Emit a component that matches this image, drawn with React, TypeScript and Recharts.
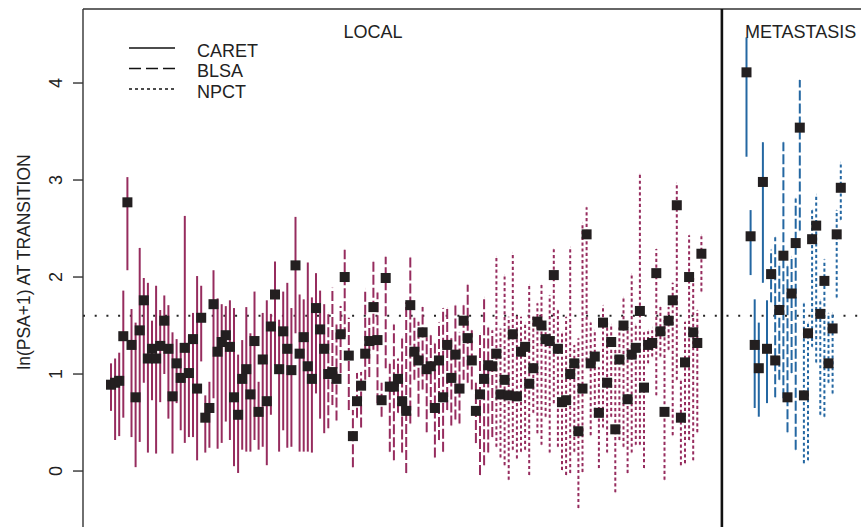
import React from "react";
import {
  ComposedChart,
  Scatter,
  ErrorBar,
  XAxis,
  YAxis,
  ReferenceLine,
  ReferenceDot,
  Legend,
} from "recharts";

// estimate / lower / upper of ln(PSA+1), one entry per subject, in plot order
const caretLocal = [
  0.89, 0.91, 0.93, 1.39, 2.77, 1.3, 0.76, 1.45, 1.76, 1.16, 1.26, 1.16, 1.29, 1.55, 1.26, 0.77, 1.11, 0.96, 1.27, 1.01,
  1.36, 0.85, 1.58, 0.55, 0.65, 1.72, 1.23, 1.33, 1.4, 1.28, 0.76, 0.58, 0.95, 1.05, 0.79, 1.34, 0.61, 1.15, 0.72, 1.49,
  1.82, 1.05, 1.44, 1.26, 1.04, 2.12, 1.21, 1.38, 1.08, 0.95, 1.68, 1.46, 1.26,
];
const caretLocalLow = [
  0.62, 0.32, 0.36, 0.55, 2.07, 0.35, 0.04, 0.3, 0.91, 0.19, 0.73, 0.18, 0.71, 1.0, 0.54, 0.18, 0.7, 0.42, 0.29, 0.35,
  0.35, 0.11, 1.13, 0.19, 0.24, 0.75, 0.23, 0.29, 0.51, 0.32, 0.05, -0.02, 0.22, 0.2, 0.2, 0.32, 0.22, 0.25, 0.06, 0.58,
  1.09, 0.2, 0.42, 0.24, 0.25, 1.42, 0.2, 0.2, 0.2, 0.19, 0.8, 0.54, 0.39,
];
const caretLocalHigh = [
  1.11, 1.16, 1.22, 1.86, 3.03, 1.67, 1.53, 2.3, 1.99, 1.94, 1.55, 1.91, 1.66, 1.81, 1.71, 1.43, 1.36, 1.32, 2.63, 1.4,
  1.63, 2.01, 1.91, 0.78, 0.92, 2.07, 1.78, 1.72, 1.7, 1.76, 1.68, 1.2, 1.35, 1.69, 1.42, 1.85, 0.92, 1.63, 1.76, 1.62,
  2.16, 1.56, 1.85, 1.94, 1.68, 2.62, 1.82, 1.77, 2.15, 1.79, 2.04, 1.86, 1.72,
];

const blsaLocal = [
  1.0, 1.02, 0.95, 1.41, 2.0, 1.19, 0.36, 0.72, 0.88, 1.21, 1.34, 1.69, 1.35, 0.73, 1.99, 0.87, 0.87, 0.95, 0.72, 0.62,
  1.71, 1.23, 1.14, 1.43, 1.05, 1.08, 0.65, 1.14, 0.76, 1.3, 0.96, 1.2, 0.85, 1.55, 1.37, 1.14, 0.62, 0.79, 0.95, 1.09,
  1.08,
];
const blsaLocalLow = [
  0.44, 0.68, 0.52, 1.01, 1.38, 0.63, 0.04, 0.55, 0.45, 0.94, 0.97, 1.25, 0.7, 0.56, 1.06, 0.2, 0.11, 0.6, 0.19, -0.02,
  0.49, 0.94, 0.56, 0.84, 0.4, 0.63, 0.14, 0.32, 0.2, 0.63, 0.47, 0.53, 0.49, 0.94, 0.91, 0.84, 0.29, -0.04, 0.06, 0.19,
  0.35,
];
const blsaLocalHigh = [
  1.63, 1.89, 1.51, 1.7, 2.28, 1.58, 0.63, 1.01, 1.02, 1.88, 1.58, 2.16, 1.84, 0.91, 2.21, 1.11, 1.51, 1.16, 1.38, 1.74,
  2.2, 1.58, 1.54, 1.69, 1.38, 1.4, 1.32, 1.53, 1.68, 1.68, 1.37, 1.71, 1.43, 1.71, 1.92, 1.45, 0.91, 1.42, 1.79, 1.48,
  1.45,
];

const npctLocal = [
  1.21, 0.79, 0.94, 0.78, 1.41, 0.77, 1.23, 1.28, 0.9, 1.06, 1.54, 1.5, 1.36, 1.34, 2.02, 1.26, 0.71, 0.73, 1.0, 1.11,
  0.41, 0.85, 2.44, 1.11, 1.18, 0.6, 1.53, 0.91, 1.33, 0.43, 1.15, 1.5, 0.74, 1.2, 1.27, 1.65, 0.86, 1.3, 1.32, 2.04,
  1.44, 0.61, 1.55, 1.76, 2.74, 0.55, 1.12, 2.0, 1.43, 1.32, 2.24,
];
const npctLocalLow = [
  0.25, 0.14, 0.06, -0.09, 0.22, 0.13, 0.2, 0.22, -0.04, 0.6, 0.39, 0.27, 0.56, 0.19, 0.7, 0.25, 0.01, -0.04, -0.02, 0.2,
  -0.38, -0.01, 1.14, 0.37, 0.56, 0.03, 0.45, 0.19, 0.56, -0.22, 0.32, 0.25, -0.02, 0.19, 0.27, 0.27, 0.03, 1.11, 1.18,
  0.78, 1.18, -0.09, 1.25, 0.37, 0.94, 0.06, 0.08, 0.32, 0.11, 0.4, 1.85,
];
const npctLocalHigh = [
  2.21, 1.47, 2.02, 1.59, 2.25, 1.61, 1.59, 1.53, 1.92, 1.59, 1.73, 1.92, 1.47, 1.81, 2.29, 1.66, 1.43, 1.59, 2.31, 1.3,
  1.37, 2.56, 2.72, 1.53, 1.45, 1.07, 1.71, 1.53, 1.51, 1.25, 1.48, 1.79, 1.48, 2.03, 1.51, 3.06, 1.43, 1.45, 1.48, 2.29,
  1.69, 1.59, 1.69, 1.94, 2.97, 0.94, 1.54, 2.43, 1.99, 1.66, 2.43,
];

const caretMet = [4.11, 2.42, 1.3, 1.06, 2.98, 1.26];
const caretMetLow = [3.24, 2.02, 0.65, 0.56, 1.94, 0.7];
const caretMetHigh = [4.47, 2.69, 1.77, 1.53, 3.39, 1.76];

const blsaMet = [2.03, 1.14, 1.66, 2.22, 0.76, 1.83, 2.35, 3.54];
const blsaMetLow = [1.74, 0.76, 0.94, 0.75, 0.4, 1.01, 0.22, 2.48];
const blsaMetHigh = [2.28, 2.41, 2.14, 3.39, 2.12, 2.21, 2.81, 4.03];

const npctMet = [0.78, 1.42, 2.39, 2.53, 1.62, 1.96, 1.11, 1.47, 2.44, 2.92];
const npctMetLow = [0.08, 0.11, 1.28, 1.12, 0.58, 0.56, 0.91, 0.8, 1.79, 2.59];
const npctMetHigh = [1.73, 1.53, 2.69, 2.85, 1.76, 2.18, 1.63, 1.63, 2.69, 3.18];

const yTicks = [0, 1, 2, 3, 4];
const threshold = 1.6;
const legendItems = ["CARET", "BLSA", "NPCT"];

// plot slot where each cohort begins
const LOCAL_CARET_START = 1;
const LOCAL_BLSA_START = LOCAL_CARET_START + caretLocal.length;
const LOCAL_NPCT_START = LOCAL_BLSA_START + blsaLocal.length;
const DIVIDER = 150;
const MET_CARET_START = 156;
const MET_BLSA_START = MET_CARET_START + caretMet.length;
const MET_NPCT_START = MET_BLSA_START + blsaMet.length;

const X_DOMAIN: [number, number] = [-5.83, 193.44];
const Y_DOMAIN: [number, number] = [-0.711, 4.763];

const FONT = '"Liberation Sans", Arial, Helvetica, sans-serif';
const LOCAL_COLOR = "#962c5e";
const MET_COLOR = "#2467a2";
const DASH = "10 3";
const DOT = "3.2 2.6";

const toPoints = (est: number[], low: number[], high: number[], start: number) =>
  est.map((v, i) => ({ x: start + i, y: v, err: [v - low[i], high[i] - v] }));

const series = [
  { key: "cl", data: toPoints(caretLocal, caretLocalLow, caretLocalHigh, LOCAL_CARET_START), color: LOCAL_COLOR, dash: undefined },
  { key: "bl", data: toPoints(blsaLocal, blsaLocalLow, blsaLocalHigh, LOCAL_BLSA_START), color: LOCAL_COLOR, dash: DASH },
  { key: "nl", data: toPoints(npctLocal, npctLocalLow, npctLocalHigh, LOCAL_NPCT_START), color: LOCAL_COLOR, dash: DOT },
  { key: "cm", data: toPoints(caretMet, caretMetLow, caretMetHigh, MET_CARET_START), color: MET_COLOR, dash: undefined },
  { key: "bm", data: toPoints(blsaMet, blsaMetLow, blsaMetHigh, MET_BLSA_START), color: MET_COLOR, dash: DASH },
  { key: "nm", data: toPoints(npctMet, npctMetLow, npctMetHigh, MET_NPCT_START), color: MET_COLOR, dash: DOT },
];

const allPoints = series.flatMap((s) => s.data);

const NoMark = () => <g />;

const Square = (props: any) => {
  const { cx, cy } = props;
  if (cx == null || cy == null) return <g />;
  return <rect x={cx - 5} y={cy - 5} width={10} height={10} fill="#231f20" />;
};

const YTick = (props: any) => {
  const { x, y, payload } = props;
  const tx = x - 15;
  return (
    <text
      x={tx}
      y={y}
      transform={`rotate(-90 ${tx} ${y})`}
      textAnchor="middle"
      dominantBaseline="central"
      fontSize={18}
      fontFamily={FONT}
      fill="#222"
    >
      {payload.value}
    </text>
  );
};

const YTitle = () => (
  <text
    x={24}
    y={262}
    transform="rotate(-90 24 262)"
    textAnchor="middle"
    dominantBaseline="central"
    fontSize={17.5}
    fontFamily={FONT}
    fill="#222"
  >
    ln(PSA+1) AT TRANSITION
  </text>
);

const LegendBox = () => (
  <svg width={160} height={72} style={{ display: "block" }}>
    {legendItems.map((name, i) => (
      <g key={name}>
        <line
          x1={9}
          x2={55}
          y1={12 + i * 20.5}
          y2={12 + i * 20.5}
          stroke="#111"
          strokeWidth={1.3}
          strokeDasharray={i === 0 ? undefined : i === 1 ? "12 5" : "3 3"}
        />
        <text x={77} y={21 + i * 20.3} fontSize={18} fontFamily={FONT} fill="#222">
          {name}
        </text>
      </g>
    ))}
  </svg>
);

export default function App() {
  return (
    <div style={{ position: "absolute", left: 0, top: 0, width: 861, height: 527, overflow: "hidden", background: "#fff" }}>
      <ComposedChart width={920} height={560} margin={{ top: 9, right: 20, bottom: 20, left: 0 }}>
        <XAxis type="number" dataKey="x" domain={X_DOMAIN} allowDataOverflow hide />
        <YAxis
          type="number"
          dataKey="y"
          domain={Y_DOMAIN}
          allowDataOverflow
          ticks={yTicks}
          width={83}
          tickSize={10}
          tick={<YTick />}
          axisLine={{ stroke: "#333", strokeWidth: 1.4 }}
          tickLine={{ stroke: "#333", strokeWidth: 1.4 }}
          label={{ content: <YTitle /> }}
        />
        <ReferenceLine y={Y_DOMAIN[1]} stroke="#333" strokeWidth={1.4} />
        <ReferenceLine x={DIVIDER} stroke="#111" strokeWidth={2.6} />
        <ReferenceLine y={threshold} stroke="#222" strokeWidth={2} strokeDasharray="2 9.7" />
        <ReferenceDot
          x={64.9}
          y={4.53}
          r={0}
          stroke="none"
          label={{ value: "LOCAL", position: "center", fontSize: 18, fontFamily: FONT, fill: "#222" }}
        />
        <ReferenceDot
          x={154.4}
          y={4.53}
          r={0}
          stroke="none"
          label={{ value: "METASTASIS", position: "right", fontSize: 18, fontFamily: FONT, fill: "#222" }}
        />
        {series.map((s) => (
          <Scatter key={s.key} data={s.data} dataKey="y" shape={<NoMark />} isAnimationActive={false} legendType="none">
            <ErrorBar
              dataKey="err"
              direction="y"
              width={0}
              stroke={s.color}
              strokeWidth={2}
              strokeDasharray={s.dash}
              isAnimationActive={false}
            />
          </Scatter>
        ))}
        <Scatter data={allPoints} dataKey="y" shape={<Square />} isAnimationActive={false} legendType="none" />
        <Legend
          layout="vertical"
          align="center"
          verticalAlign="middle"
          content={<LegendBox />}
          wrapperStyle={{ left: 120, top: 36, width: 160, height: 72 }}
        />
      </ComposedChart>
    </div>
  );
}
